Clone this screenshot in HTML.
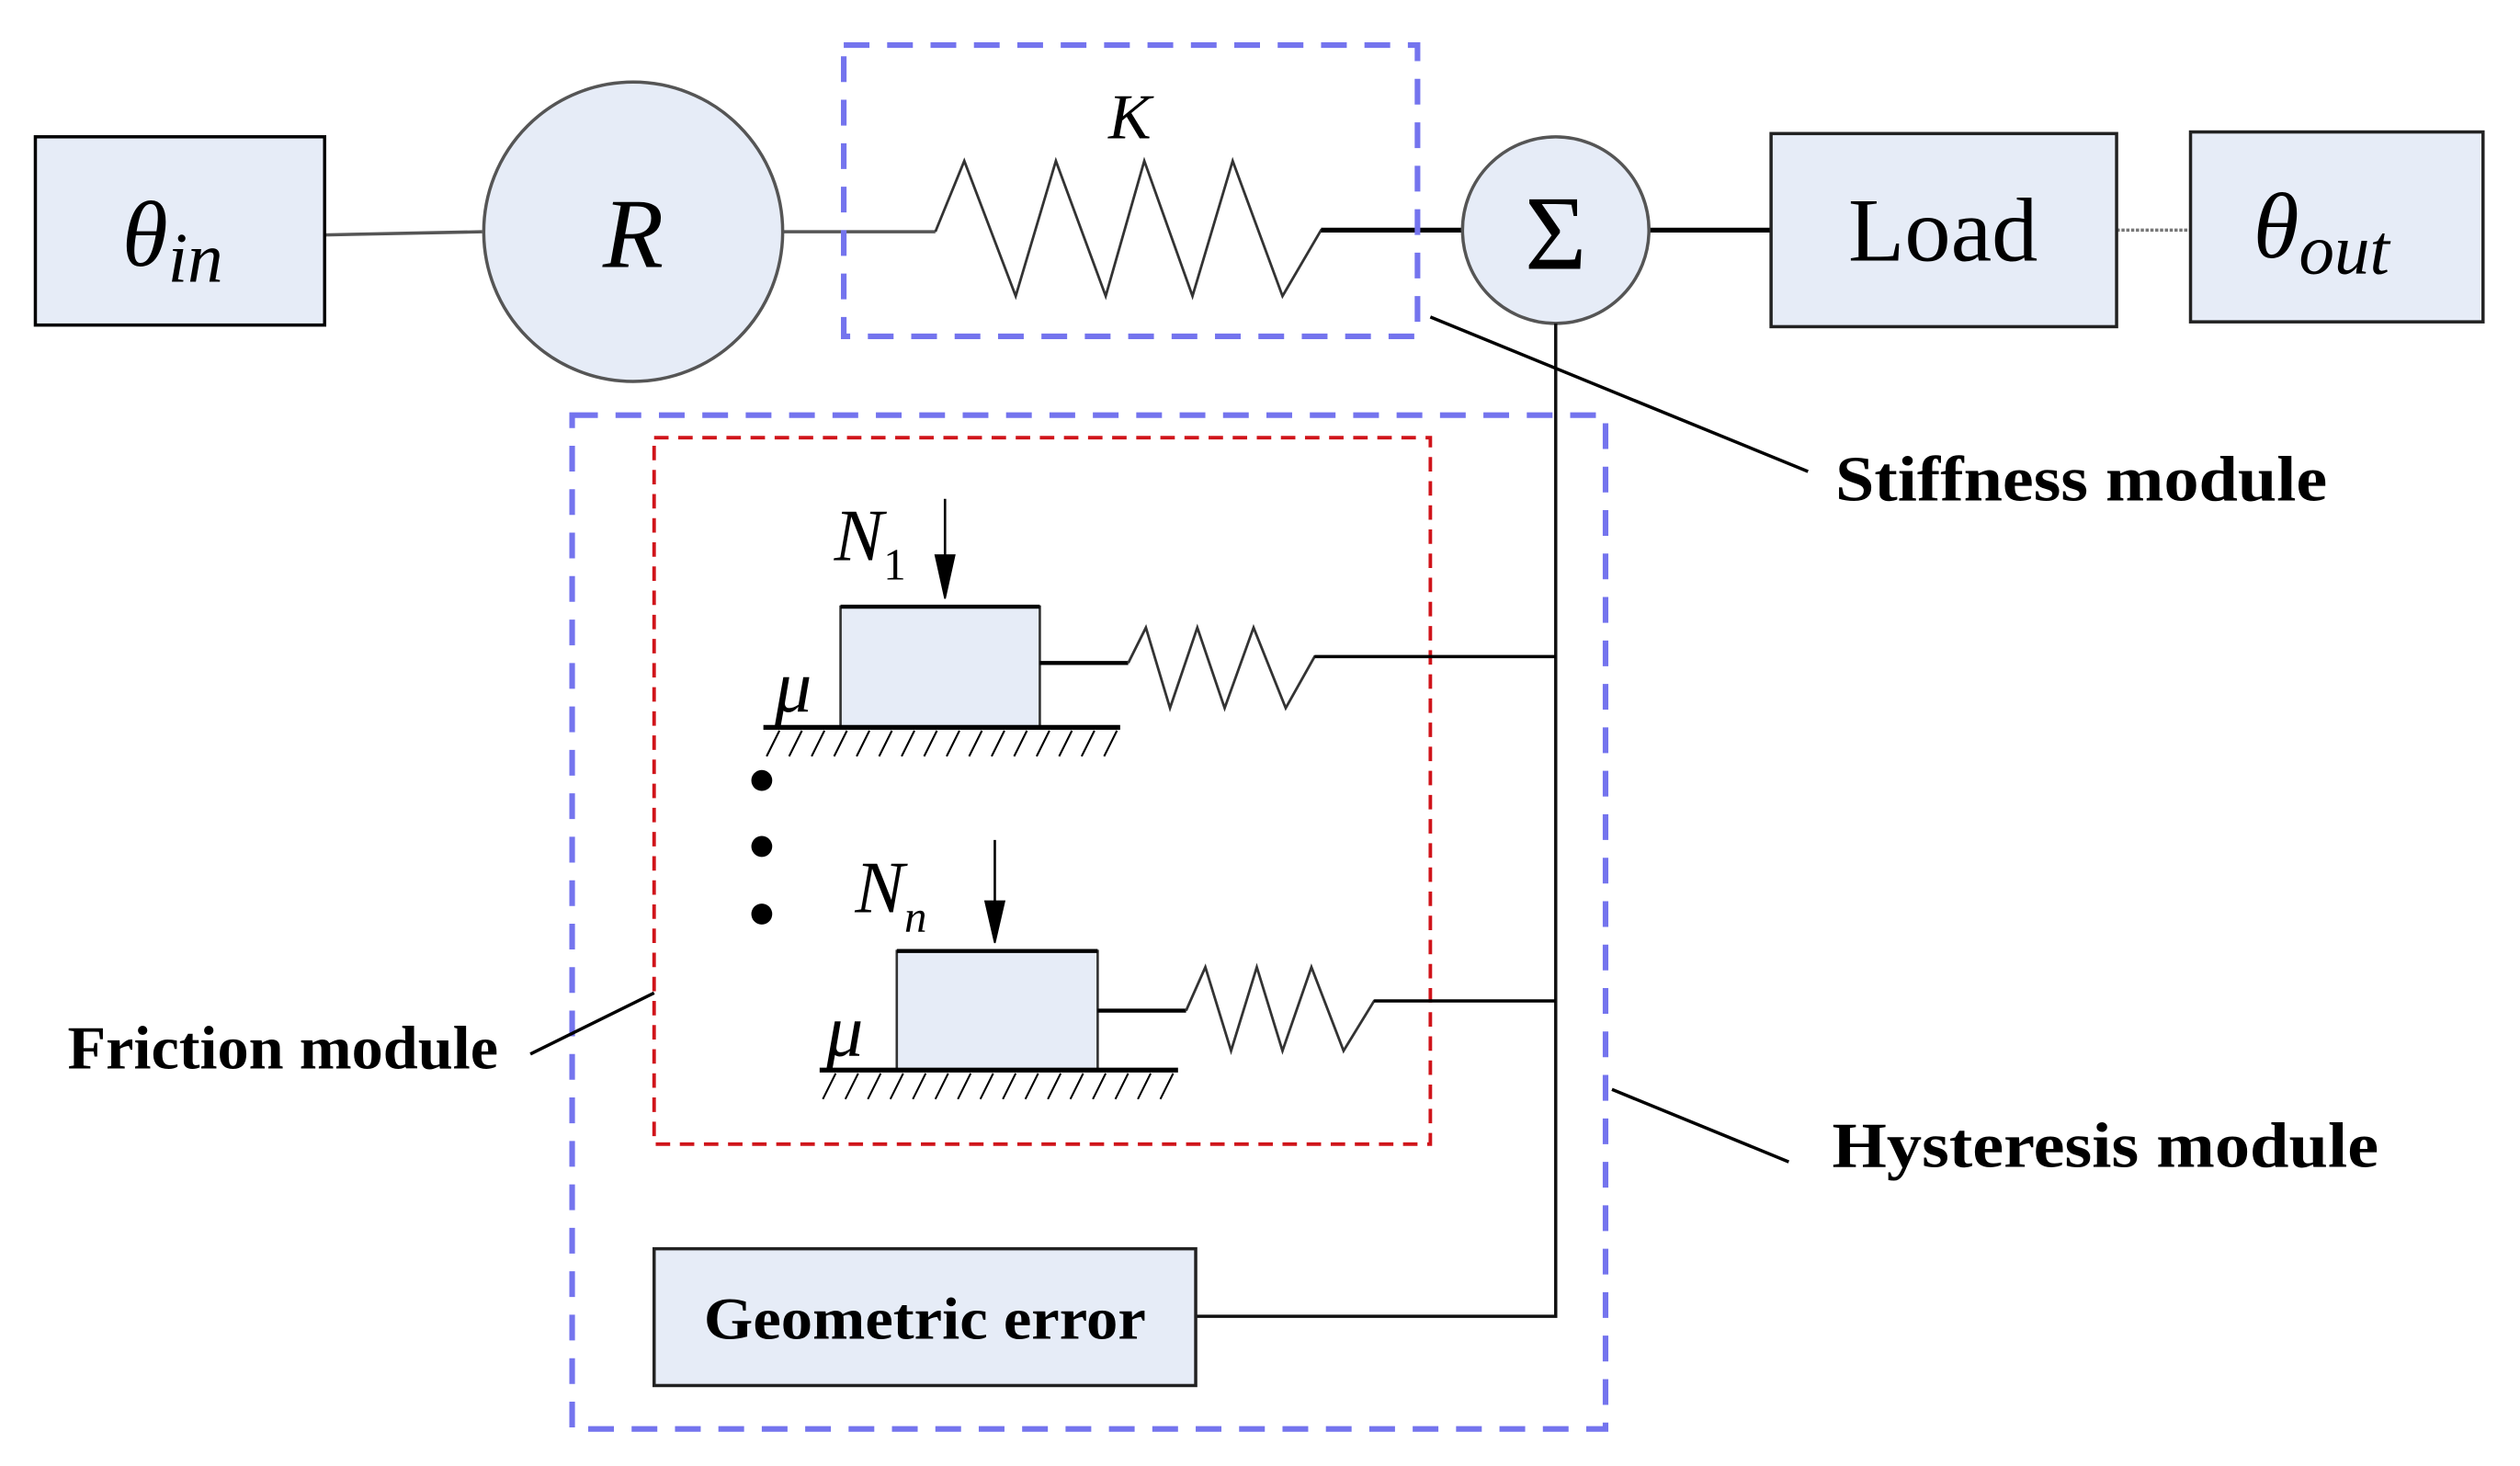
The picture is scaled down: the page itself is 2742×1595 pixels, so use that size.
<!DOCTYPE html>
<html><head><meta charset="utf-8"><style>
html,body{margin:0;padding:0;background:#fff;}
svg{display:block;}
.t{font-family:"Liberation Serif",serif;}
</style></head><body>
<svg width="2742" height="1595" viewBox="0 0 1568 911" preserveAspectRatio="none" xmlns="http://www.w3.org/2000/svg">
<g fill="none" stroke="#000">
<line x1="202" y1="146" x2="300" y2="144" stroke="#555" stroke-width="2"/>
<line x1="487" y1="144" x2="582" y2="144" stroke="#555" stroke-width="2"/>
<polyline points="582,144 600,100 632,184 657,100 688,184 712,100 742,184 767,100 798,184 822,143 910,143" stroke="#333" stroke-width="1.6"/>
<line x1="822" y1="143" x2="910" y2="143" stroke="#000" stroke-width="3"/>
<line x1="1026" y1="143" x2="1102" y2="143" stroke="#000" stroke-width="3"/>
<line x1="1317" y1="143" x2="1363" y2="143" stroke="#777" stroke-width="2" stroke-dasharray="2,1"/>
<rect x="22" y="85" width="180" height="117" fill="#e6ecf7" stroke="#000" stroke-width="2"/>
<circle cx="394" cy="144" r="93" fill="#e6ecf7" stroke="#555" stroke-width="2"/>
<circle cx="968" cy="143" r="58" fill="#e6ecf7" stroke="#555" stroke-width="2"/>
<rect x="1102" y="83" width="215" height="120" fill="#e6ecf7" stroke="#222" stroke-width="2"/>
<rect x="1363" y="82" width="182" height="118" fill="#e6ecf7" stroke="#222" stroke-width="2"/>
<rect x="525" y="28" width="357" height="181" stroke="#7474ee" stroke-width="3.5" stroke-dasharray="16,11"/>
<rect x="356" y="258" width="643" height="630" stroke="#7474ee" stroke-width="3.5" stroke-dasharray="16,11"/>
<rect x="407" y="272" width="483" height="439" stroke="#d0141a" stroke-width="2.2" stroke-dasharray="9,6"/>
<polyline points="968,201 968,818 744,818" stroke="#111" stroke-width="2"/>
<rect x="523" y="377" width="124" height="75" fill="#e6ecf7" stroke="#333" stroke-width="1.5"/>
<line x1="523" y1="377" x2="647" y2="377" stroke-width="2.5"/>
<line x1="475" y1="452" x2="697" y2="452" stroke-width="3"/>
<g stroke-width="1.2">
<path d="M485,454 l-8,16 M499,454 l-8,16 M513,454 l-8,16 M527,454 l-8,16 M541,454 l-8,16 M555,454 l-8,16 M569,454 l-8,16 M583,454 l-8,16 M597,454 l-8,16 M611,454 l-8,16 M625,454 l-8,16 M639,454 l-8,16 M653,454 l-8,16 M667,454 l-8,16 M681,454 l-8,16 M695,454 l-8,16"/>
</g>
<line x1="647" y1="412" x2="702" y2="412" stroke-width="2.5"/>
<polyline points="702,412 713,390 728,440 745,390 762,440 780,390 800,440 818,408 968,408" stroke="#333" stroke-width="1.6"/>
<line x1="818" y1="408" x2="968" y2="408" stroke-width="2"/>
<line x1="588" y1="310" x2="588" y2="350" stroke-width="1.5"/>
<polygon points="582,345 594,345 588,372" fill="#000"/>
<rect x="558" y="591" width="125" height="74" fill="#e6ecf7" stroke="#333" stroke-width="1.5"/>
<line x1="558" y1="591" x2="683" y2="591" stroke-width="2.5"/>
<line x1="510" y1="665" x2="733" y2="665" stroke-width="3"/>
<g stroke-width="1.2">
<path d="M520,667 l-8,16 M534,667 l-8,16 M548,667 l-8,16 M562,667 l-8,16 M576,667 l-8,16 M590,667 l-8,16 M604,667 l-8,16 M618,667 l-8,16 M632,667 l-8,16 M646,667 l-8,16 M660,667 l-8,16 M674,667 l-8,16 M688,667 l-8,16 M702,667 l-8,16 M716,667 l-8,16 M730,667 l-8,16"/>
</g>
<line x1="683" y1="628" x2="738" y2="628" stroke-width="2.5"/>
<polyline points="738,628 750,601 766,653 782,601 798,653 816,601 836,653 855,622 968,622" stroke="#333" stroke-width="1.6"/>
<line x1="855" y1="622" x2="968" y2="622" stroke-width="2"/>
<line x1="619" y1="522" x2="619" y2="565" stroke-width="1.5"/>
<polygon points="613,560 625,560 619,586" fill="#000"/>
<rect x="407" y="776" width="337" height="85" fill="#e6ecf7" stroke="#222" stroke-width="2"/>
<line x1="890" y1="197" x2="1125" y2="293" stroke-width="2"/>
<line x1="330" y1="655" x2="407" y2="617" stroke-width="2"/>
<line x1="1003" y1="677" x2="1113" y2="722" stroke-width="2"/>
</g>
<g fill="#000">
<circle cx="474" cy="485" r="6.5"/>
<circle cx="474" cy="526" r="6.5"/>
<circle cx="474" cy="568" r="6.5"/>
</g>
<g class="t" fill="#000">
<text x="76" y="165" font-size="58" font-style="italic">θ<tspan font-size="44" dy="10">in</tspan></text>
<text x="394" y="166" font-size="62" font-style="italic" text-anchor="middle">R</text>
<text x="703" y="86" font-size="40" font-style="italic" text-anchor="middle">K</text>
<text x="968" y="167" font-size="66" text-anchor="middle">Σ</text>
<text x="1150" y="162" font-size="56" textLength="118" lengthAdjust="spacingAndGlyphs">Load</text>
<text x="1402" y="160" font-size="58" font-style="italic">θ<tspan font-size="44" dy="10">out</tspan></text>
<text x="1142" y="311" font-size="40" font-weight="bold" textLength="306" lengthAdjust="spacingAndGlyphs">Stiffness module</text>
<text x="42" y="664" font-size="38" font-weight="bold" textLength="268" lengthAdjust="spacingAndGlyphs">Friction module</text>
<text x="1140" y="725" font-size="40" font-weight="bold" textLength="340" lengthAdjust="spacingAndGlyphs">Hysteresis module</text>
<text x="438" y="832" font-size="37" font-weight="bold" textLength="275" lengthAdjust="spacingAndGlyphs">Geometric error</text>
<text x="519" y="348" font-size="46" font-style="italic">N<tspan font-size="28" font-style="normal" dy="12">1</tspan></text>
<text x="532" y="567" font-size="46" font-style="italic">N<tspan font-size="28" dy="12">n</tspan></text>
<text x="482" y="442" font-size="46" font-style="italic">μ</text>
<text x="514" y="656" font-size="46" font-style="italic">μ</text>
</g>
</svg>
</body></html>
